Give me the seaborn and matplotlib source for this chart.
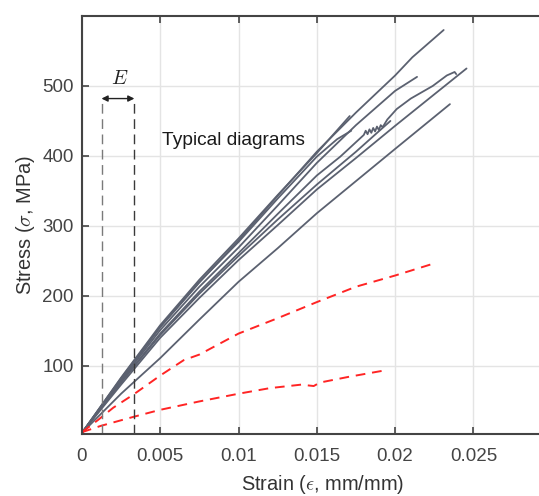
import matplotlib
matplotlib.use("Agg")
import matplotlib.pyplot as plt
import seaborn as sns
import pandas as pd

# ---- tensile test records: strain (mm/mm) and stress (MPa) ----
typ_a_strain = [0, 0.0025, 0.005, 0.0075, 0.01, 0.0125, 0.015, 0.0175, 0.02, 0.0211, 0.0231]
typ_a_stress = [4, 81, 155, 219, 279, 343, 406, 462, 515, 541, 580]

typ_b_strain = [0, 0.0025, 0.005, 0.0075, 0.01, 0.0125, 0.015, 0.0171]
typ_b_stress = [4, 83, 158, 223, 282, 344, 404, 457]

typ_c_strain = [0, 0.0025, 0.005, 0.0075, 0.01, 0.0125, 0.015, 0.0163, 0.0172]
typ_c_stress = [4, 82, 156, 220, 277, 339, 399, 424, 436]

typ_d_strain = [0, 0.0025, 0.005, 0.0075, 0.01, 0.0125, 0.015, 0.0175, 0.02, 0.0214]
typ_d_stress = [4, 79, 151, 213, 269, 329, 390, 444, 493, 513]

typ_e_strain = [0, 0.0025, 0.005, 0.0075, 0.01, 0.0125, 0.015, 0.0165, 0.018,
                0.01812, 0.01824, 0.01836, 0.01848, 0.0186, 0.01872, 0.01884, 0.01896,
                0.01908, 0.0192, 0.0195, 0.0201, 0.021, 0.0224, 0.0233, 0.0238, 0.0239]
typ_e_stress = [4, 77, 146, 206, 261, 317, 372, 399, 430,
                436, 431, 438, 433, 440, 435, 442, 437,
                444, 441, 452, 467, 482, 500, 515, 520, 517]

typ_f_strain = [0, 0.0025, 0.005, 0.0075, 0.01, 0.0125, 0.015, 0.0175, 0.0197]
typ_f_stress = [4, 76, 144, 203, 257, 309, 359, 406, 450]

typ_g_strain = [0, 0.0025, 0.005, 0.0075, 0.01, 0.0125, 0.015, 0.0175, 0.02, 0.0225, 0.02456]
typ_g_stress = [4, 73, 140, 197, 251, 301, 352, 397, 443, 488, 525]

typ_h_strain = [0, 0.0025, 0.005, 0.0075, 0.01, 0.0125, 0.015, 0.0175, 0.02, 0.0235]
typ_h_stress = [4, 60, 111, 166, 220, 268, 318, 364, 410, 474]

low_a_strain = [0, 0.001, 0.002, 0.0033, 0.005, 0.0065, 0.0075, 0.01, 0.0125, 0.015, 0.0175, 0.02, 0.0223]
low_a_stress = [5, 22, 40, 59, 86, 108, 116, 146, 168, 191, 213, 229, 245]

low_b_strain = [0, 0.0012, 0.0033, 0.005, 0.0075, 0.01, 0.012, 0.014, 0.0148, 0.0152, 0.017, 0.0195]
low_b_stress = [5, 14, 27, 37, 49, 60, 68, 73, 71, 76, 84, 94]

# modulus reading window
e_window = [0.00125, 0.00335]
e_window_top = 482

x_ticks = [0, 0.005, 0.01, 0.015, 0.02, 0.025]
x_tick_labels = ["0", "0.005", "0.01", "0.015", "0.02", "0.025"]
y_ticks = [100, 200, 300, 400, 500]

typical = [
    ("A", typ_a_strain, typ_a_stress), ("B", typ_b_strain, typ_b_stress),
    ("C", typ_c_strain, typ_c_stress), ("D", typ_d_strain, typ_d_stress),
    ("E", typ_e_strain, typ_e_stress), ("F", typ_f_strain, typ_f_stress),
    ("G", typ_g_strain, typ_g_stress), ("H", typ_h_strain, typ_h_stress),
]
low = [("L1", low_a_strain, low_a_stress), ("L2", low_b_strain, low_b_stress)]


def to_long(records):
    rows = []
    for name, xs, ys in records:
        for i, (x, y) in enumerate(zip(xs, ys)):
            rows.append({"specimen": name, "order": i, "strain": x, "stress": y})
    return pd.DataFrame(rows)


df_typ = to_long(typical)
df_low = to_long(low)

sns.set_style("white")
plt.rcParams["font.family"] = ["Liberation Sans", "DejaVu Sans"]
plt.rcParams["mathtext.fontset"] = "cm"

fig = plt.figure(figsize=(5.39, 4.96), dpi=100)
ax = fig.add_axes([0.152, 0.1244, 0.8716, 0.8433])

sns.lineplot(data=df_typ, x="strain", y="stress", units="specimen", estimator=None,
             sort=False, color="#5b6170", linewidth=1.3, ax=ax)
sns.lineplot(data=df_low, x="strain", y="stress", units="specimen", estimator=None,
             sort=False, color="#ff2424", linewidth=1.4, ax=ax)
for line in ax.get_lines()[len(typical):]:
    line.set_dashes([5, 3.5])

ax.set_xlim(0, 0.03)
ax.set_ylim(2, 600)

# modulus window markers
ax.plot([e_window[0]] * 2, [2, e_window_top], color="#7a7a7a", lw=1.0, dashes=[7, 4])
ax.plot([e_window[1]] * 2, [2, e_window_top], color="#3a3a3a", lw=1.0, dashes=[7, 4])
ax.annotate("", xy=(e_window[0], e_window_top), xytext=(e_window[1], e_window_top),
            arrowprops=dict(arrowstyle="<|-|>", color="#222222", lw=1.0,
                            mutation_scale=9, shrinkA=0, shrinkB=0))
ax.text(sum(e_window) / 2 + 0.0001, 511, "$E$", ha="center", va="center",
        fontsize=14.5, color="#222222")
ax.text(0.0051, 422, "Typical diagrams", ha="left", va="center",
        fontsize=13.8, color="#1a1a1a")

ax.set_xticks(x_ticks)
ax.set_xticklabels(x_tick_labels)
ax.set_yticks(y_ticks)
ax.grid(True, color="#e4e4e4", lw=1.0)
ax.set_axisbelow(True)

ax.tick_params(axis="both", which="both", direction="in", length=5, width=1.2,
               color="#444444", labelcolor="#444444", labelsize=13.5,
               top=True, right=True, bottom=True, left=True)
ax.tick_params(axis="x", pad=10)
ax.tick_params(axis="y", pad=6)
for side in ["left", "bottom", "top", "right"]:
    ax.spines[side].set_color("#444444")
    ax.spines[side].set_linewidth(1.5)
    ax.spines[side].set_visible(True)

ax.set_xlabel(r"Strain ($\epsilon$, mm/mm)", fontsize=14.4, color="#333333")
ax.set_ylabel(r"Stress ($\sigma$, MPa)", fontsize=14.4, color="#333333", labelpad=4)
ax.xaxis.set_label_coords(0.513, -0.12)
ax.xaxis.label.set_va("center")

fig.savefig("out.png", dpi=100)
